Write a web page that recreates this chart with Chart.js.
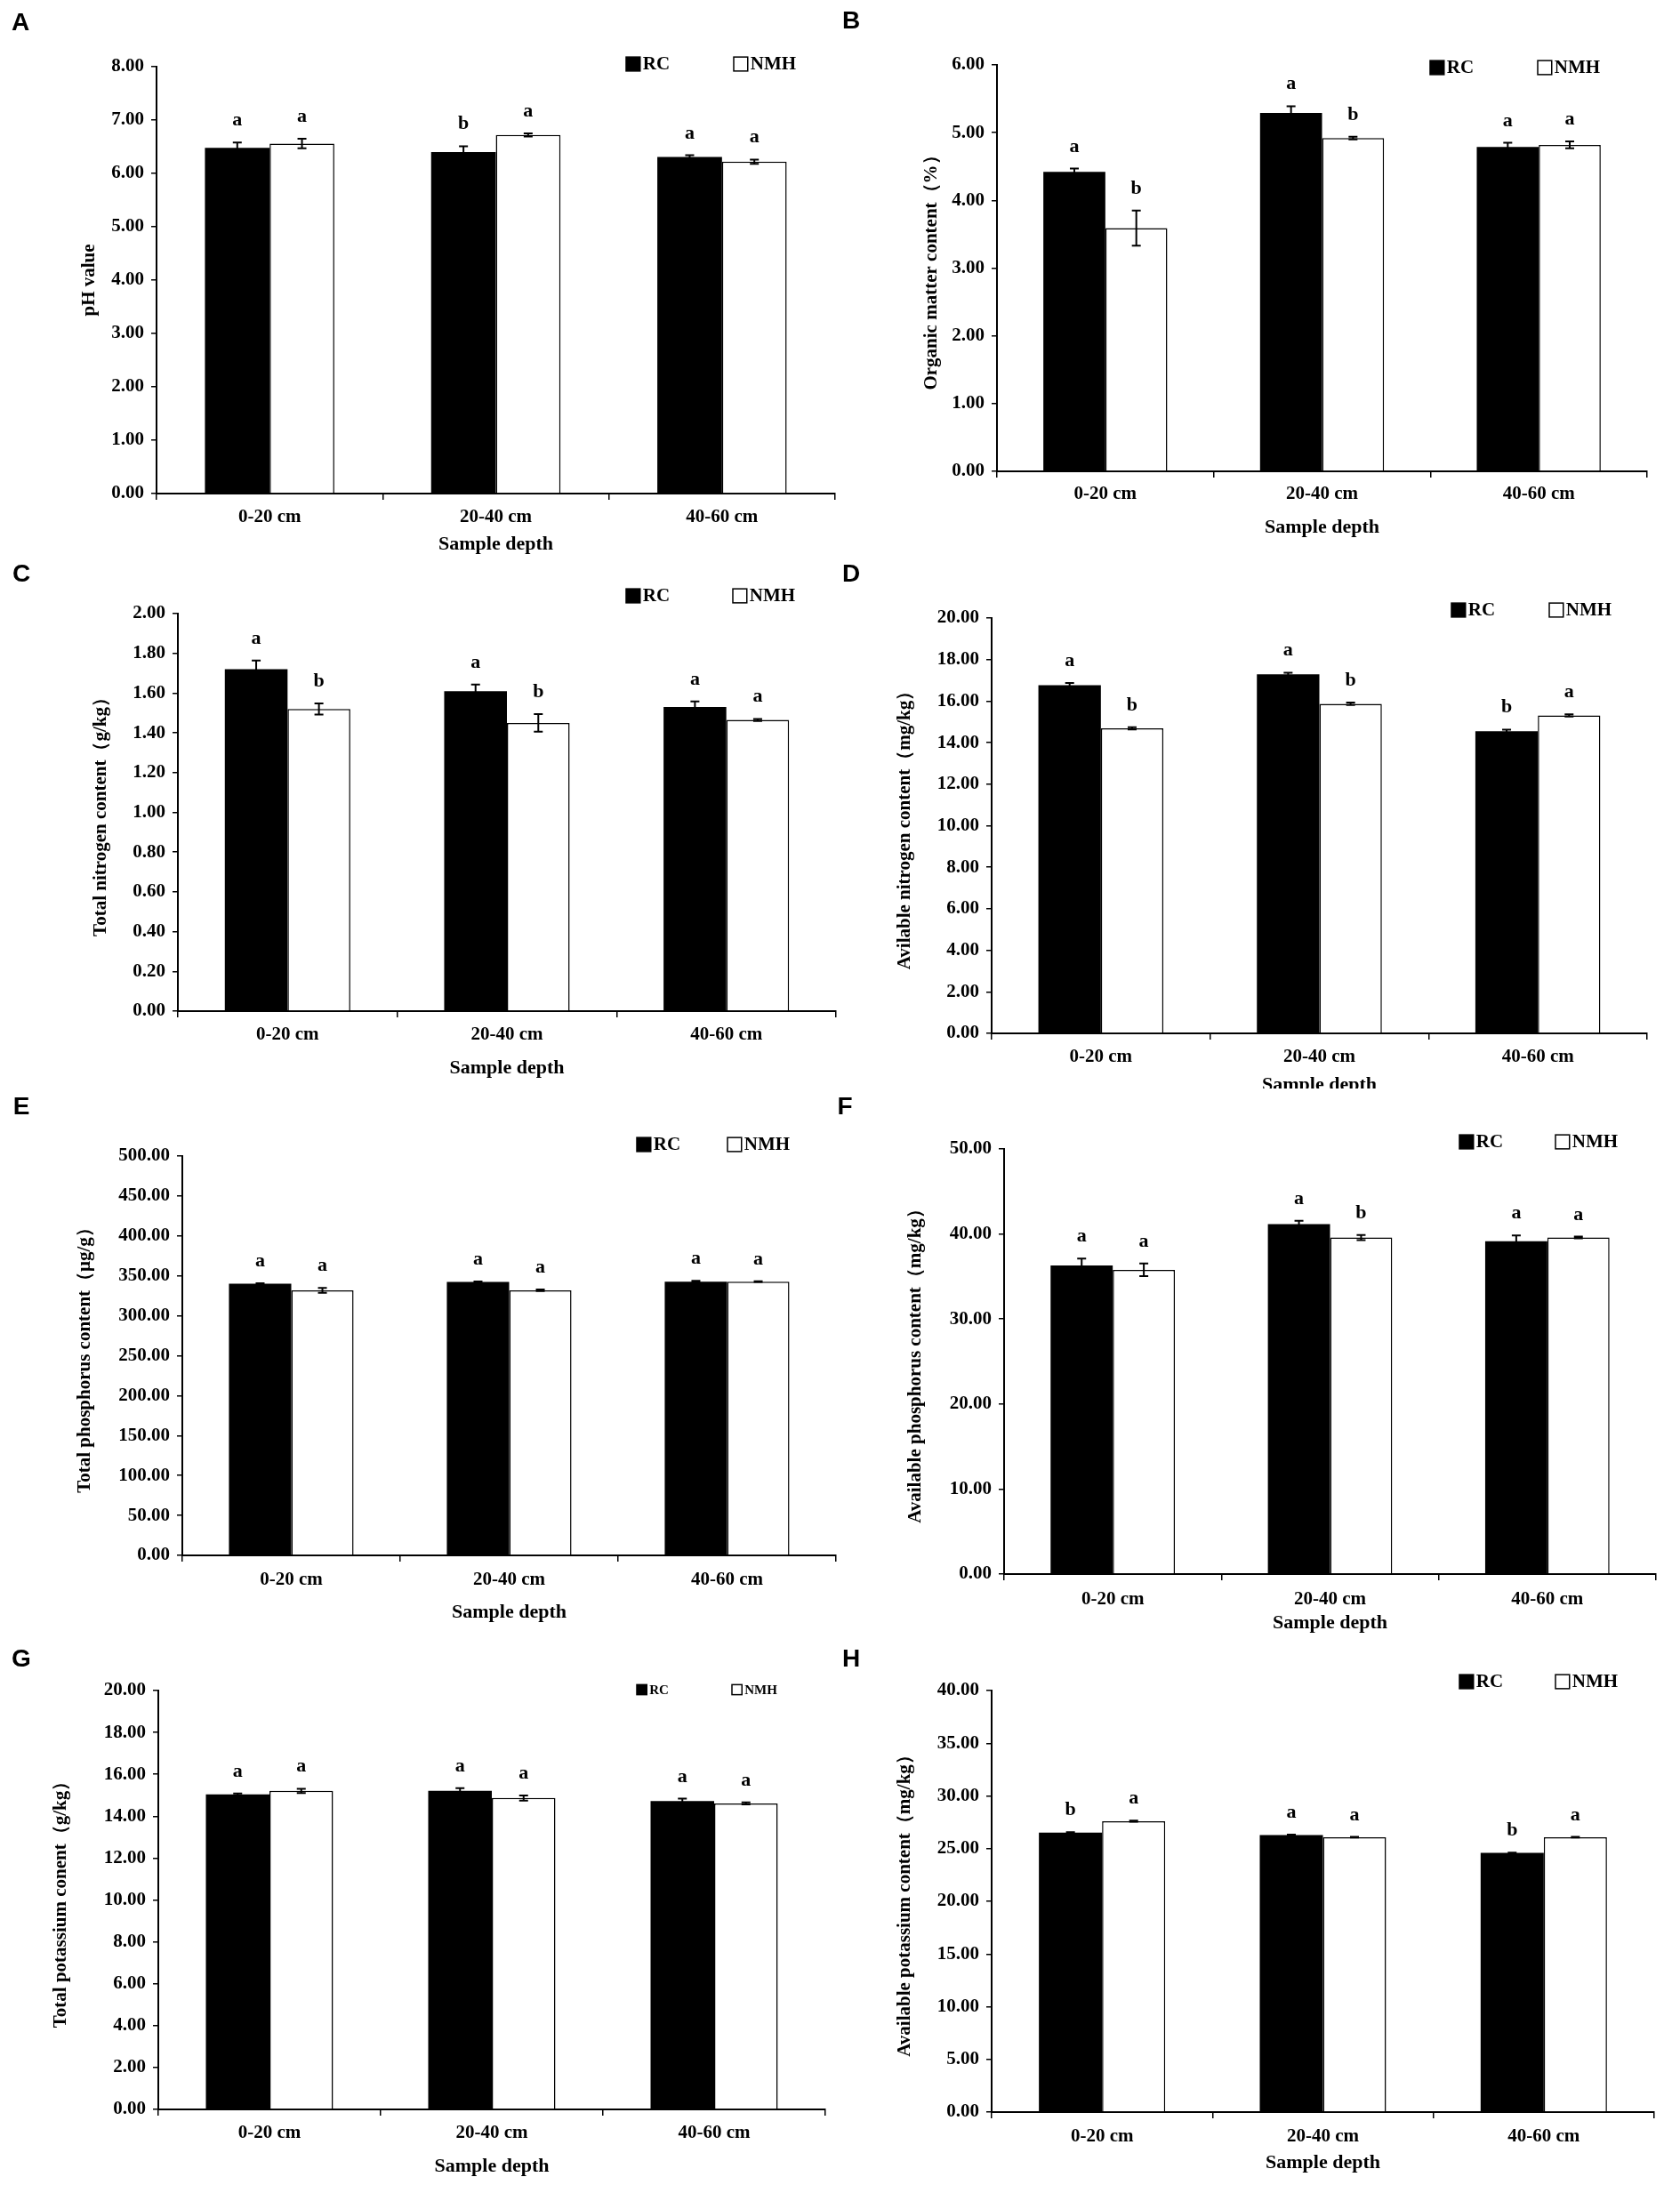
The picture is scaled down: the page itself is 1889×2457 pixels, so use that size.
<!DOCTYPE html>
<html>
<head>
<meta charset="utf-8">
<script src="https://cdn.jsdelivr.net/npm/chart.js@4.4.0/dist/chart.umd.min.js"></script>
<style>
html, body { margin: 0; padding: 0; background: #fff; }
body { width: 1889px; height: 2457px; position: relative; overflow: hidden; }
canvas { position: absolute; }
</style>
</head>
<body>
<canvas id="panelA"></canvas>
<canvas id="panelB"></canvas>
<canvas id="panelC"></canvas>
<canvas id="panelD"></canvas>
<canvas id="panelE"></canvas>
<canvas id="panelF"></canvas>
<canvas id="panelG"></canvas>
<canvas id="panelH"></canvas>
<script>
// Shared categories and series names
const depthLabels = ['0-20 cm', '20-40 cm', '40-60 cm'];
const seriesNames = ['RC', 'NMH'];

// A - pH value
const phRC = [6.48, 6.40, 6.31];
const phNMH = [6.56, 6.72, 6.22];
const phRCErr = [0.10, 0.11, 0.03];
const phNMHErr = [0.09, 0.03, 0.04];
const phRCSig = ['a', 'b', 'a'];
const phNMHSig = ['a', 'a', 'a'];

// B - organic matter (%)
const omRC = [4.42, 5.29, 4.79];
const omNMH = [3.59, 4.92, 4.82];
const omRCErr = [0.05, 0.10, 0.06];
const omNMHErr = [0.26, 0.02, 0.05];
const omRCSig = ['a', 'a', 'a'];
const omNMHSig = ['b', 'b', 'a'];

// C - total nitrogen (g/kg)
const tnRC = [1.72, 1.61, 1.53];
const tnNMH = [1.52, 1.45, 1.465];
const tnRCErr = [0.044, 0.033, 0.028];
const tnNMHErr = [0.028, 0.044, 0.005];
const tnRCSig = ['a', 'a', 'a'];
const tnNMHSig = ['b', 'b', 'a'];

// D - available nitrogen (mg/kg)
const anRC = [16.77, 17.29, 14.55];
const anNMH = [14.69, 15.87, 15.31];
const anRCErr = [0.10, 0.08, 0.08];
const anNMHErr = [0.05, 0.06, 0.05];
const anRCSig = ['a', 'a', 'b'];
const anNMHSig = ['b', 'b', 'a'];

// E - total phosphorus (ug/g)
const tpRC = [340.2, 342.4, 342.8];
const tpNMH = [331.9, 331.9, 342.8];
const tpRCErr = [0.5, 0.5, 1.0];
const tpNMHErr = [3.0, 1.0, 0.5];
const tpRCSig = ['a', 'a', 'a'];
const tpNMHSig = ['a', 'a', 'a'];

// F - available phosphorus (mg/kg)
const apRC = [36.31, 41.15, 39.14];
const apNMH = [35.78, 39.59, 39.59];
const apRCErr = [0.8, 0.4, 0.7];
const apNMHErr = [0.75, 0.3, 0.1];
const apRCSig = ['a', 'a', 'a'];
const apNMHSig = ['a', 'b', 'a'];

// G - total potassium (g/kg)
const tkRC = [15.04, 15.21, 14.72];
const tkNMH = [15.21, 14.87, 14.61];
const tkRCErr = [0.05, 0.13, 0.12];
const tkNMHErr = [0.10, 0.12, 0.05];
const tkRCSig = ['a', 'a', 'a'];
const tkNMHSig = ['a', 'a', 'a'];

// H - available potassium (mg/kg)
const akRC = [26.51, 26.28, 24.60];
const akNMH = [27.60, 26.08, 26.08];
const akRCErr = [0.05, 0.05, 0.03];
const akNMHErr = [0.05, 0.03, 0.03];
const akRCSig = ['b', 'a', 'b'];
const akNMHSig = ['a', 'a', 'a'];

const SERIF = '"Liberation Serif", "Times New Roman", serif';

// Panel layout (page pixels): box = canvas rect, plot = [left, top, right, bottom]
const panels = [
	{ id: 'panelA', letter: 'A', rc: phRC, nmh: phNMH, rcErr: phRCErr, nmhErr: phNMHErr, rcSig: phRCSig, nmhSig: phNMHSig,
		yMax: 8, yStep: 1, yTitle: 'pH value',
		box: [0, 0, 945, 640], plot: [176, 75, 939, 555], yTitleX: 101, catY: 582, depthY: 612,
		legend: { rc: 704, nmh: 825, y: 72, size: 21 }, mark: [23, 26] },
	{ id: 'panelB', letter: 'B', rc: omRC, nmh: omNMH, rcErr: omRCErr, nmhErr: omNMHErr, rcSig: omRCSig, nmhSig: omNMHSig,
		yMax: 6, yStep: 1, yTitle: 'Organic matter content（%）',
		box: [940, 0, 949, 640], plot: [1121, 73, 1852, 530], yTitleX: 1048, catY: 556, depthY: 593,
		legend: { rc: 1608, nmh: 1729, y: 76, size: 21 }, mark: [957, 24] },
	{ id: 'panelC', letter: 'C', rc: tnRC, nmh: tnNMH, rcErr: tnRCErr, nmhErr: tnNMHErr, rcSig: tnRCSig, nmhSig: tnNMHSig,
		yMax: 2, yStep: 0.2, yTitle: 'Total nitrogen content（g/kg）',
		box: [0, 620, 945, 615], plot: [200, 690, 940, 1137], yTitleX: 114, catY: 1164, depthY: 1201,
		legend: { rc: 704, nmh: 824, y: 670, size: 21 }, mark: [24, 646] },
	{ id: 'panelD', letter: 'D', rc: anRC, nmh: anNMH, rcErr: anRCErr, nmhErr: anNMHErr, rcSig: anRCSig, nmhSig: anNMHSig,
		yMax: 20, yStep: 2, yTitle: 'Avilable nitrogen content（mg/kg）',
		box: [940, 620, 949, 604], plot: [1115, 695, 1852, 1162], yTitleX: 1018, catY: 1189, depthY: 1220,
		legend: { rc: 1632, nmh: 1742, y: 686, size: 21 }, mark: [957, 646] },
	{ id: 'panelE', letter: 'E', rc: tpRC, nmh: tpNMH, rcErr: tpRCErr, nmhErr: tpNMHErr, rcSig: tpRCSig, nmhSig: tpNMHSig,
		yMax: 500, yStep: 50, yTitle: 'Total phosphorus content（μg/g）',
		box: [0, 1228, 945, 620], plot: [205, 1300, 940, 1749], yTitleX: 96, catY: 1777, depthY: 1813,
		legend: { rc: 716, nmh: 818, y: 1287, size: 21 }, mark: [24, 1245] },
	{ id: 'panelF', letter: 'F', rc: apRC, nmh: apNMH, rcErr: apRCErr, nmhErr: apNMHErr, rcSig: apRCSig, nmhSig: apNMHSig,
		yMax: 50, yStep: 10, yTitle: 'Available phosphorus content（mg/kg）',
		box: [940, 1228, 949, 620], plot: [1129, 1292, 1862, 1770], yTitleX: 1030, catY: 1799, depthY: 1825,
		legend: { rc: 1641, nmh: 1749, y: 1284, size: 21 }, mark: [950, 1245] },
	{ id: 'panelG', letter: 'G', rc: tkRC, nmh: tkNMH, rcErr: tkRCErr, nmhErr: tkNMHErr, rcSig: tkRCSig, nmhSig: tkNMHSig,
		yMax: 20, yStep: 2, yTitle: 'Total potassium conent（g/kg）',
		box: [0, 1845, 945, 612], plot: [178, 1901, 928, 2372], yTitleX: 69, catY: 2399, depthY: 2436,
		legend: { rc: 716, nmh: 823, y: 1900, size: 15 }, mark: [24, 1866] },
	{ id: 'panelH', letter: 'H', rc: akRC, nmh: akNMH, rcErr: akRCErr, nmhErr: akNMHErr, rcSig: akRCSig, nmhSig: akNMHSig,
		yMax: 40, yStep: 5, yTitle: 'Available potassium content（mg/kg）',
		box: [940, 1845, 949, 612], plot: [1115, 1901, 1860, 2375], yTitleX: 1018, catY: 2403, depthY: 2432,
		legend: { rc: 1641, nmh: 1749, y: 1891, size: 21 }, mark: [957, 1866] },
];

// Error bars and significance letters over each bar
const errorBarPlugin = {
	id: 'errorBars',
	afterDatasetsDraw(chart) {
		const ctx = chart.ctx;
		const yScale = chart.scales.y;
		chart.data.datasets.forEach((ds, i) => {
			const meta = chart.getDatasetMeta(i);
			meta.data.forEach((bar, j) => {
				const v = ds.data[j];
				const e = ds.errors[j];
				const yHi = yScale.getPixelForValue(v + e);
				const yLo = yScale.getPixelForValue(v - e);
				ctx.save();
				ctx.strokeStyle = '#000';
				ctx.lineWidth = 2;
				ctx.beginPath();
				ctx.moveTo(bar.x, yHi);
				ctx.lineTo(bar.x, yLo);
				ctx.moveTo(bar.x - 5, yHi);
				ctx.lineTo(bar.x + 5, yHi);
				ctx.moveTo(bar.x - 5, yLo);
				ctx.lineTo(bar.x + 5, yLo);
				ctx.stroke();
				ctx.fillStyle = '#000';
				ctx.font = 'bold 22px ' + SERIF;
				ctx.textAlign = 'center';
				ctx.textBaseline = 'alphabetic';
				ctx.fillText(ds.sig[j], bar.x, yHi - 19);
				ctx.restore();
			});
		});
	},
};

// Legend boxes and panel letter
const decorPlugin = {
	id: 'decor',
	afterDraw(chart, args, opts) {
		const ctx = chart.ctx;
		const ox = opts.origin[0];
		const oy = opts.origin[1];
		const lg = opts.legend;
		const sq = lg.size * 0.75;
		ctx.save();
		chart.data.datasets.forEach((ds, i) => {
			const x = (i === 0 ? lg.rc : lg.nmh) - ox;
			const y = lg.y - oy;
			ctx.fillStyle = ds.backgroundColor;
			ctx.fillRect(x, y - sq / 2, sq, sq);
			ctx.strokeStyle = '#000';
			ctx.lineWidth = 1.5;
			ctx.strokeRect(x, y - sq / 2, sq, sq);
			ctx.fillStyle = '#000';
			ctx.font = 'bold ' + lg.size + 'px ' + SERIF;
			ctx.textAlign = 'left';
			ctx.textBaseline = 'middle';
			ctx.fillText(ds.label, x + sq + 3, y + 1);
		});
		ctx.font = 'bold 28px "Liberation Sans", Arial, sans-serif';
		ctx.textAlign = 'center';
		ctx.textBaseline = 'middle';
		ctx.fillText(opts.letter, opts.mark[0] - ox, opts.mark[1] - oy);
		ctx.restore();
	},
};

function makePanel(p) {
	const canvas = document.getElementById(p.id);
	const [bx, by, bw, bh] = p.box;
	const [pl, pt, pr, pb] = p.plot;
	canvas.style.left = bx + 'px';
	canvas.style.top = by + 'px';
	canvas.style.width = bw + 'px';
	canvas.style.height = bh + 'px';
	canvas.width = bw;
	canvas.height = bh;

	const tickFont = { family: SERIF, size: 21, weight: 'bold' };
	const titleFont = { family: SERIF, size: 22, weight: 'bold' };
	const yAxisWidth = pl - bx;
	const xAxisHeight = by + bh - pb;

	new Chart(canvas, {
		type: 'bar',
		data: {
			labels: depthLabels,
			datasets: [
				{
					label: seriesNames[0],
					data: p.rc,
					errors: p.rcErr,
					sig: p.rcSig,
					backgroundColor: '#000',
					borderColor: '#000',
					borderWidth: 0,
				},
				{
					label: seriesNames[1],
					data: p.nmh,
					errors: p.nmhErr,
					sig: p.nmhSig,
					backgroundColor: '#fff',
					borderColor: '#000',
					borderWidth: 1.5,
				},
			],
		},
		options: {
			responsive: false,
			animation: false,
			devicePixelRatio: 1,
			categoryPercentage: 0.572,
			barPercentage: 1,
			layout: { padding: { top: pt - by, right: bx + bw - pr, left: 0, bottom: 0 } },
			plugins: {
				legend: { display: false },
				tooltip: { enabled: false },
				decor: { origin: [bx, by], legend: p.legend, letter: p.letter, mark: p.mark },
			},
			scales: {
				x: {
					grid: { display: true, drawOnChartArea: false, drawTicks: true, tickLength: 7, color: '#000', lineWidth: 1.5, offset: true },
					border: { display: true, color: '#000', width: 2 },
					ticks: { color: '#000', font: tickFont, padding: p.catY - pb - 7 - 12.6, maxRotation: 0 },
					title: {
						display: true,
						text: 'Sample depth',
						color: '#000',
						font: titleFont,
						padding: { top: 0, bottom: by + bh - p.depthY - 13.2 },
					},
					afterFit: (scale) => {
						scale.height = xAxisHeight;
					},
				},
				y: {
					min: 0,
					max: p.yMax,
					grid: { display: true, drawOnChartArea: false, drawTicks: true, tickLength: 6, color: '#000', lineWidth: 1.5 },
					border: { display: true, color: '#000', width: 2 },
					ticks: {
						stepSize: p.yStep,
						color: '#000',
						font: tickFont,
						padding: 8,
						callback: (v) => Number(v).toFixed(2),
					},
					title: {
						display: true,
						text: p.yTitle,
						color: '#000',
						font: { family: SERIF, size: 21, weight: 'bold' },
						padding: { top: p.yTitleX - bx - 12.6, bottom: 0 },
					},
					afterFit: (scale) => {
						scale.width = yAxisWidth;
					},
				},
			},
		},
		plugins: [errorBarPlugin, decorPlugin],
	});
}

document.addEventListener('DOMContentLoaded', function () {
	panels.forEach(makePanel);
});
</script>
</body>
</html>
